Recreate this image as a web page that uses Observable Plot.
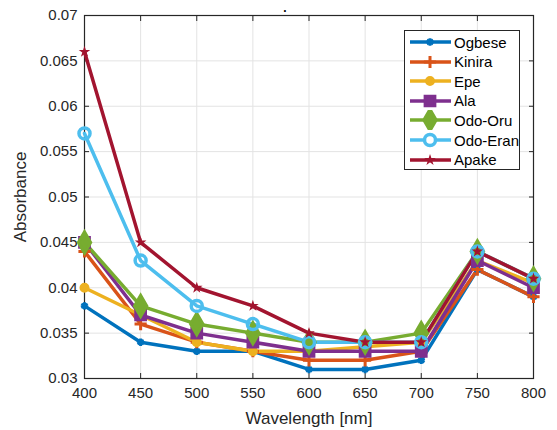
<!DOCTYPE html>
<html>
<head>
<meta charset="utf-8">
<script src="https://cdn.jsdelivr.net/npm/d3@7"></script>
<script src="https://cdn.jsdelivr.net/npm/@observablehq/plot@0.6"></script>
<style>
  html, body { margin: 0; padding: 0; background: #fff; }
  #wrap { position: relative; width: 557px; height: 430px; font-family: "Liberation Sans", Arial, sans-serif; }
  #legend { position: absolute; left: 404px; top: 30px; width: 116px; height: 140px; border: 1px solid #262626; background: #fff; box-sizing: border-box; }
  #legend .row { position: absolute; left: 0; height: 20px; display: flex; align-items: center; white-space: nowrap; }
  #legend svg { flex: none; }
  #legend span { font-size: 15px; color: #000; margin-left: 1px; white-space: nowrap; }
</style>
</head>
<body>
<div id="wrap"><div id="chart"></div><div id="legend"></div></div>
<script>
const wavelengths = [400, 450, 500, 550, 600, 650, 700, 750, 800];
const ogbese  = [0.038, 0.034, 0.033, 0.033, 0.031, 0.031, 0.032, 0.042, 0.039];
const kinira  = [0.044, 0.036, 0.034, 0.033, 0.032, 0.032, 0.033, 0.042, 0.039];
const epe     = [0.040, 0.037, 0.034, 0.033, 0.033, 0.0335, 0.034, 0.043, 0.0405];
const ala     = [0.045, 0.037, 0.035, 0.034, 0.033, 0.033, 0.033, 0.043, 0.040];
const odoOru  = [0.045, 0.038, 0.036, 0.035, 0.034, 0.034, 0.035, 0.044, 0.041];
const odoEran = [0.057, 0.043, 0.038, 0.036, 0.034, 0.034, 0.034, 0.044, 0.041];
const apake   = [0.066, 0.045, 0.040, 0.038, 0.035, 0.034, 0.034, 0.044, 0.041];

const seriesNames = ["Ogbese", "Kinira", "Epe", "Ala", "Odo-Oru", "Odo-Eran", "Apake"];
const seriesValues = [ogbese, kinira, epe, ala, odoOru, odoEran, apake];
const colors = ["#0072BD", "#D95319", "#EDB120", "#7E2F8E", "#77AC30", "#4DBEEE", "#A2142F"];
const symbols = ["asterisk", "plus", "circle", "square", "diamond", "circle", "star"];
const radii = [3.5, 4, 3.5, 5.5, 6.5, 5.5, 2.2];
const strokeWidths = [3, 3, 3, 3, 3, 3.5, 1.5];
const filled = [false, false, true, true, true, false, true];
const xTicks = [400, 450, 500, 550, 600, 650, 700, 750, 800];
const yTicks = [0.03, 0.035, 0.04, 0.045, 0.05, 0.055, 0.06, 0.065, 0.07];
const xLabel = "Wavelength [nm]";
const yLabel = "Absorbance";
const titleText = ".";

const data = [];
seriesNames.forEach((s, i) => wavelengths.forEach((w, j) => data.push({series: s, x: w, y: seriesValues[i][j]})));

const fmt = d => String(+d.toFixed(3));
const tickColor = "#262626";

const dotMarks = seriesNames.map((s, i) => Plot.dot(data.filter(d => d.series === s), {
  x: "x", y: "y", symbol: () => symbols[i], r: radii[i],
  stroke: colors[i], strokeWidth: strokeWidths[i],
  fill: filled[i] ? colors[i] : "none"
}));

const chart = Plot.plot({
  width: 557, height: 430,
  marginLeft: 84, marginRight: 24, marginTop: 15, marginBottom: 52,
  style: {fontFamily: "Liberation Sans, Arial, sans-serif", fontSize: "15px", color: tickColor, background: "#fff"},
  x: {domain: [400, 800], ticks: xTicks},
  y: {domain: [0.03, 0.07], ticks: yTicks},
  symbol: {type: "identity"},
  marks: [
    Plot.gridX(xTicks, {stroke: "#e3e3e3", strokeOpacity: 1, strokeWidth: 1}),
    Plot.gridY(yTicks, {stroke: "#e3e3e3", strokeOpacity: 1, strokeWidth: 1}),
    Plot.axisX({ticks: xTicks, tickSize: 0, tickPadding: 9, tickFormat: d => String(d), label: null, fontSize: 15, fill: tickColor}),
    Plot.axisX({ticks: xTicks, tickSize: -5, tickFormat: () => "", label: null, stroke: tickColor}),
    Plot.axisX({ticks: xTicks, anchor: "top", tickSize: -5, tickFormat: () => "", label: null, stroke: tickColor}),
    Plot.axisY({ticks: yTicks, tickSize: 0, tickPadding: 7, tickFormat: fmt, label: null, fontSize: 15, fill: tickColor}),
    Plot.axisY({ticks: yTicks, tickSize: -5, tickFormat: () => "", label: null, stroke: tickColor}),
    Plot.axisY({ticks: yTicks, anchor: "right", tickSize: -5, tickFormat: () => "", label: null, stroke: tickColor}),
    Plot.frame({stroke: tickColor, strokeWidth: 1.2}),
    Plot.lineY(data, {x: "x", y: "y", z: "series", stroke: d => colors[seriesNames.indexOf(d.series)], strokeWidth: 3.5, strokeLinejoin: "round"}),
    ...dotMarks,
    Plot.text([xLabel], {frameAnchor: "bottom", textAnchor: "middle", lineAnchor: "middle", dy: 40, fontSize: 17, fill: tickColor}),
    Plot.text([yLabel], {frameAnchor: "left", textAnchor: "middle", lineAnchor: "middle", dx: -64, rotate: -90, fontSize: 17, fill: tickColor}),
    Plot.text([titleText], {frameAnchor: "top", textAnchor: "middle", lineAnchor: "bottom", dy: -4, dx: -24, fontSize: 12, fontWeight: "bold", fill: "#000"})
  ]
});
document.getElementById("chart").appendChild(chart);

// Legend
const legend = d3.select("#legend");
const symMap = {asterisk: d3.symbolAsterisk, plus: d3.symbolPlus, circle: d3.symbolCircle, square: d3.symbolSquare, diamond: d3.symbolDiamond, star: d3.symbolStar};
seriesNames.forEach((s, i) => {
  const row = legend.append("div").attr("class", "row").style("top", (1 + i * 19.6) + "px").style("left", "3px");
  const svg = row.append("svg").attr("width", 45).attr("height", 20);
  svg.append("line").attr("x1", 2).attr("x2", 43).attr("y1", 10).attr("y2", 10).attr("stroke", colors[i]).attr("stroke-width", 3.5);
  const r = radii[i];
  svg.append("path").attr("transform", "translate(22,10)")
    .attr("d", d3.symbol(symMap[symbols[i]], Math.PI * r * r)())
    .attr("stroke", colors[i]).attr("stroke-width", strokeWidths[i])
    .attr("fill", filled[i] ? colors[i] : "#fff");
  row.append("span").text(s);
});
</script>
</body>
</html>
